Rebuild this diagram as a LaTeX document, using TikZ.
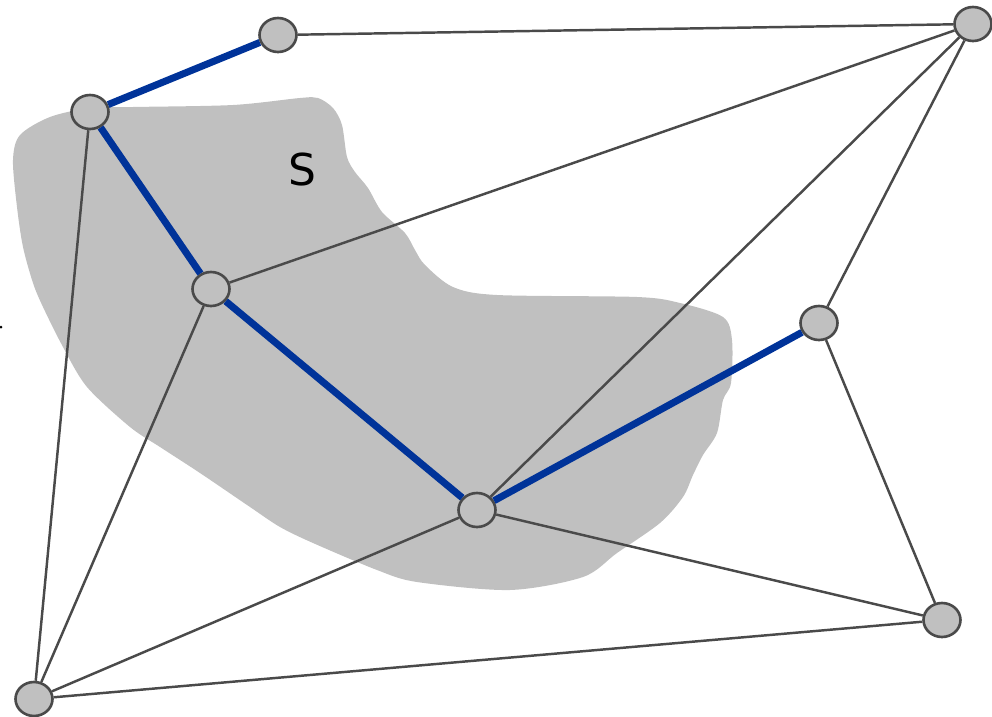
\documentclass[tikz,border=0pt]{standalone}
\usepackage{fontspec}
\setsansfont{DejaVu Sans}
\usepackage{tikz}
\usepackage{xcolor}
\usetikzlibrary{shapes.geometric}

\definecolor{edgegray}{HTML}{4A4A4A}
\definecolor{cutblue}{HTML}{003399}
\definecolor{setgray}{HTML}{C0C0C0}

\begin{document}
\begin{tikzpicture}[
          x=0.02cm, y=-0.02cm,
          vert/.style={draw=edgegray, line width=1.5pt, fill=setgray, ellipse, minimum width=0.74cm, minimum height=0.68cm, inner sep=0pt},
          edge/.style={draw=edgegray, line width=1.4pt},
          tree/.style={draw=cutblue, line width=4pt}
      ]
        \useasboundingbox (0,0) rectangle (992,717);
        % the set S
        \fill[setgray] plot[smooth cycle, tension=0.5] coordinates {
          (13,160) (20,135) (50,117) (90,108) (133,107) (233,105) (300,98) (318,98)
          (333,108) (342,125) (347,157) (355,172) (368,188) (382,212) (405,233) (415,250)
          (425,265) (453,287) (497,295) (637,297) (680,303) (723,317) (732,340) (731,383)
          (723,400) (717,433) (703,455) (693,475) (683,497) (660,523) (617,553) (583,577)
          (510,590) (417,582) (377,570) (313,543) (280,527) (250,507) (200,473) (160,447)
          (130,427) (87,387) (63,347) (43,307) (33,283) (23,247) (17,207)};
        \node[font=\sffamily\fontsize{25}{30}\selectfont] (slabel) at (302,170) {S};
        \fill (1,327) circle[radius=1.5];
        % vertices
        \node[vert] (top) at (278,35) {};
        \node[vert] (topleft) at (90,112) {};
        \node[vert] (topright) at (973,24) {};
        \node[vert] (mid) at (211,289) {};
        \node[vert] (right) at (819,323) {};
        \node[vert] (center) at (477,510) {};
        \node[vert] (lowright) at (942,620) {};
        \node[vert] (lowleft) at (34,699) {};
        % edges
        \draw[edge] (top) -- (topright);
        \draw[edge] (topright) -- (mid);
        \draw[edge] (topright) -- (center);
        \draw[edge] (topright) -- (right);
        \draw[edge] (right) -- (lowright);
        \draw[edge] (center) -- (lowright);
        \draw[edge] (lowright) -- (lowleft);
        \draw[edge] (center) -- (lowleft);
        \draw[edge] (mid) -- (lowleft);
        \draw[edge] (topleft) -- (lowleft);
        % tree edges
        \draw[tree] (top) -- (topleft);
        \draw[tree] (topleft) -- (mid);
        \draw[tree] (mid) -- (center);
        \draw[tree] (center) -- (right);
      \end{tikzpicture}
\end{document}
